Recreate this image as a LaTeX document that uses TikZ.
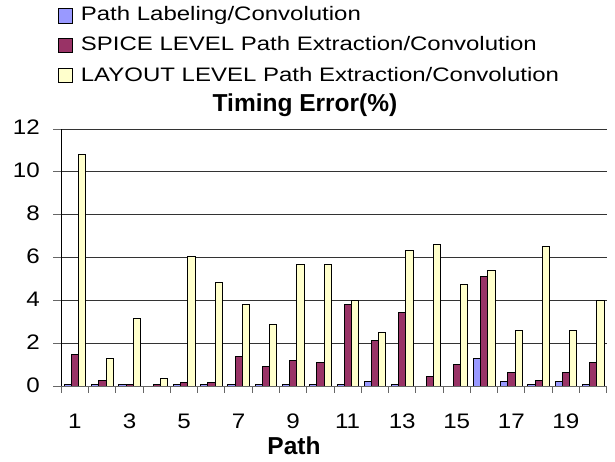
\documentclass[tikz,border=0pt]{standalone}
\usepackage{fontspec}
\setmainfont{Liberation Sans}
\usepackage{graphicx}
\definecolor{pblue}{HTML}{9999FF}
\definecolor{ppurp}{HTML}{993366}
\definecolor{pyell}{HTML}{FFFFCC}
\tikzset{
  gridln/.style={draw=black!80, line width=0.9pt},
  axisln/.style={draw=black, line width=0.9pt},
  tickln/.style={draw=black!60, line width=0.9pt},
  barbox/.style={draw=black, line width=0.7pt},
  ylab/.style={anchor=base east, inner sep=0pt, font=\fontsize{21}{22}\selectfont},
  xlab/.style={anchor=base, inner sep=0pt, font=\fontsize{21}{22}\selectfont},
  legsq/.style={draw=black, line width=0.7pt, minimum size=14.5pt, inner sep=0pt},
  legtext/.style={anchor=base west, inner sep=0pt, font=\fontsize{19.5}{20}\selectfont},
  titletext/.style={anchor=base, inner sep=0pt, font=\fontsize{24.5}{26}\selectfont\bfseries},
}
\begin{document}
\begin{tikzpicture}[x=1pt,y=-1pt]
\useasboundingbox (0,0) rectangle (615,461);
\fill[white] (0,0) rectangle (615,461);
% gridlines
\foreach \v in {2,4,...,12} {
  \draw[gridln] (61.3,{386-21.417*\v}) -- (606.7,{386-21.417*\v});
}
% bars
\foreach \b/\p/\q [count=\k] in {
  0.1/1.5/10.8, 0.1/0.28/1.3, 0.1/0.1/3.16, 0/0.1/0.36, 0.1/0.17/6.05,
  0.1/0.17/4.84, 0.1/1.39/3.81, 0.1/0.93/2.88, 0.1/1.21/5.68, 0.1/1.12/5.68,
  0.1/3.81/4.0, 0.2/2.13/2.5, 0.1/3.44/6.32, 0/0.45/6.6, 0/1.01/4.75,
  1.3/5.12/5.4, 0.2/0.64/2.6, 0.1/0.27/6.52, 0.2/0.64/2.6, 0.1/1.11/4.0} {
  \pgfmathsetmacro\L{61.3+(\k-1)*27.27+2.9}
  \ifdim\b pt>0pt
    \draw[barbox, fill=pblue] (\L,386) rectangle ({\L+7.2},{386-21.417*\b});
  \fi
  \draw[barbox, fill=ppurp] ({\L+7.2},386) rectangle ({\L+14.4},{386-21.417*\p});
  \draw[barbox, fill=pyell] ({\L+14.4},386) rectangle ({\L+21.6},{386-21.417*\q});
}
% axes
\draw[axisln] (61.3,129) -- (61.3,386);
\draw[tickln] (61.3,386) -- (606.7,386);
\foreach \i in {0,...,20} {
  \draw[tickln] ({61.3+\i*27.27},386) -- ++(0,7);
}
\foreach \v in {0,2,...,12} {
  \draw[tickln] (53,{386-21.417*\v}) -- (61.3,{386-21.417*\v});
  \node[ylab] (y\v) at (40,{392-21.417*\v}) {\scalebox{1.15}[1]{\v}};
}
\foreach \k in {1,3,...,19} {
  \node[xlab] (x\k) at ({61.3+(\k-0.5)*27.27},428.3) {\scalebox{1.15}[1]{\k}};
}
% titles
\node[titletext] (title) at (305,111.7) {Timing Error(\%)};
\node[titletext] (xtitle) at (294,454.3) {Path};
% legend
\node[legsq, fill=pblue] (s1) at (65.3,15.8) {};
\node[legsq, fill=ppurp] (s2) at (65.3,45.3) {};
\node[legsq, fill=pyell] (s3) at (65.3,75.5) {};
\node[legtext] (t1) at (80.7,20.7) {\scalebox{1.23}[1]{Path Labeling/Convolution}};
\node[legtext] (t2) at (80.7,50.6) {\scalebox{1.23}[1]{SPICE LEVEL Path Extraction/Convolution}};
\node[legtext] (t3) at (80.7,81.3) {\scalebox{1.23}[1]{LAYOUT LEVEL Path Extraction/Convolution}};
\end{tikzpicture}
\end{document}
